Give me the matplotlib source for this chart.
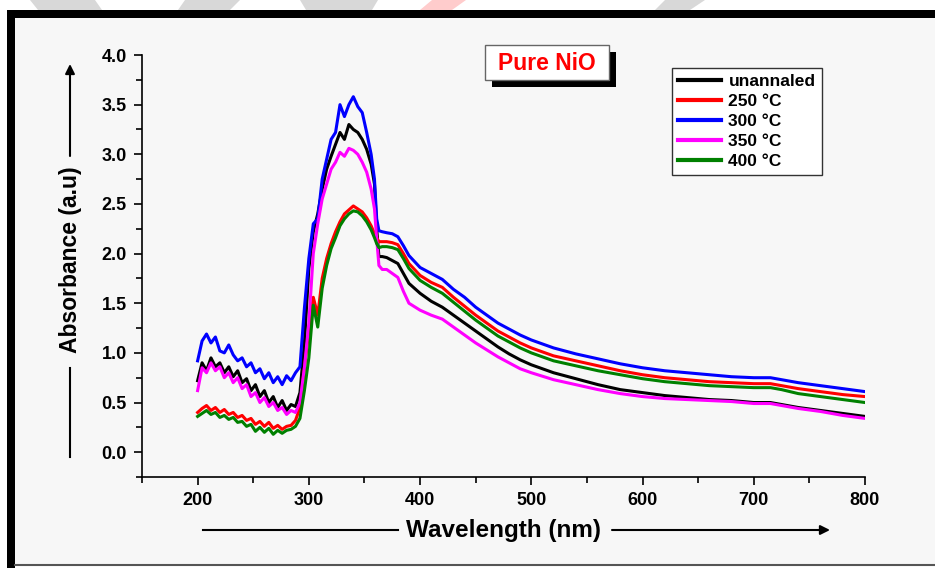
import matplotlib.pyplot as plt
from matplotlib.patches import Rectangle, Polygon
from matplotlib.lines import Line2D
from matplotlib.ticker import MultipleLocator

W, H = 935, 568

# wavelength grid (nm)
wavelength = list(range(200, 360, 4)) + [359, 361, 363, 366, 370, 375, 380, 385, 390,
                                         400, 410, 420, 430, 440, 450, 460, 470, 480, 490, 500,
                                         520, 540, 560, 580, 600, 620, 640, 660, 680, 700,
                                         715, 725, 740, 760, 780, 800]

unannealed = [0.72, 0.90, 0.82, 0.95, 0.86, 0.90, 0.80, 0.86, 0.76, 0.82,
              0.70, 0.74, 0.62, 0.68, 0.56, 0.62, 0.50, 0.56, 0.45, 0.52,
              0.42, 0.48, 0.46, 0.60, 1.10, 1.85, 2.22, 2.40, 2.65, 2.85,
              2.98, 3.10, 3.22, 3.15, 3.30, 3.25, 3.22, 3.15, 3.05, 2.90,
              2.70, 2.25, 1.97, 1.97, 1.96, 1.93, 1.90, 1.80, 1.70,
              1.60, 1.52, 1.46, 1.38, 1.30, 1.22, 1.14, 1.06, 0.99, 0.93, 0.88,
              0.80, 0.74, 0.68, 0.63, 0.60, 0.57, 0.55, 0.53, 0.52, 0.50,
              0.50, 0.48, 0.45, 0.42, 0.39, 0.36]

t250 = [0.40, 0.44, 0.47, 0.42, 0.45, 0.40, 0.43, 0.38, 0.40, 0.35,
        0.37, 0.32, 0.34, 0.28, 0.31, 0.26, 0.30, 0.24, 0.27, 0.23,
        0.26, 0.27, 0.32, 0.45, 0.85, 1.22, 1.56, 1.38, 1.75, 1.95,
        2.10, 2.22, 2.32, 2.40, 2.44, 2.48, 2.45, 2.42, 2.36, 2.28,
        2.20, 2.16, 2.12, 2.12, 2.12, 2.11, 2.09, 2.00, 1.90,
        1.78, 1.71, 1.66, 1.56, 1.47, 1.38, 1.30, 1.22, 1.16, 1.10, 1.05,
        0.97, 0.92, 0.87, 0.82, 0.78, 0.75, 0.73, 0.71, 0.70, 0.69,
        0.69, 0.67, 0.64, 0.61, 0.58, 0.56]

t300 = [0.92, 1.12, 1.19, 1.10, 1.16, 1.02, 1.00, 1.08, 0.98, 0.92,
        0.95, 0.86, 0.90, 0.80, 0.84, 0.74, 0.80, 0.70, 0.76, 0.68,
        0.77, 0.72, 0.80, 0.86, 1.45, 1.95, 2.30, 2.35, 2.75, 2.95,
        3.15, 3.22, 3.50, 3.38, 3.50, 3.58, 3.48, 3.42, 3.22, 3.00,
        2.75, 2.35, 2.23, 2.22, 2.21, 2.20, 2.17, 2.08, 1.98,
        1.86, 1.80, 1.74, 1.64, 1.56, 1.46, 1.38, 1.30, 1.24, 1.18, 1.13,
        1.05, 0.99, 0.94, 0.89, 0.85, 0.82, 0.80, 0.78, 0.76, 0.75,
        0.75, 0.73, 0.70, 0.67, 0.64, 0.61]

t350 = [0.62, 0.85, 0.80, 0.90, 0.82, 0.86, 0.75, 0.80, 0.70, 0.75,
        0.64, 0.68, 0.56, 0.60, 0.50, 0.55, 0.46, 0.50, 0.42, 0.45,
        0.38, 0.42, 0.40, 0.50, 0.85, 1.30, 2.00, 2.30, 2.55, 2.70,
        2.85, 2.92, 3.02, 2.98, 3.06, 3.04, 3.00, 2.92, 2.82, 2.65,
        2.45, 2.15, 1.88, 1.84, 1.84, 1.80, 1.76, 1.62, 1.50,
        1.43, 1.38, 1.34, 1.26, 1.18, 1.10, 1.03, 0.96, 0.90, 0.84, 0.80,
        0.73, 0.68, 0.63, 0.59, 0.56, 0.54, 0.53, 0.52, 0.51, 0.49,
        0.49, 0.47, 0.44, 0.41, 0.37, 0.34]

t400 = [0.36, 0.39, 0.42, 0.38, 0.40, 0.35, 0.37, 0.33, 0.35, 0.30,
        0.31, 0.26, 0.28, 0.21, 0.25, 0.20, 0.24, 0.18, 0.22, 0.19,
        0.22, 0.23, 0.26, 0.34, 0.62, 0.95, 1.48, 1.26, 1.65, 1.88,
        2.05, 2.16, 2.28, 2.35, 2.40, 2.43, 2.42, 2.38, 2.32, 2.24,
        2.16, 2.10, 2.06, 2.07, 2.07, 2.06, 2.04, 1.95, 1.85,
        1.73, 1.66, 1.60, 1.51, 1.42, 1.33, 1.25, 1.17, 1.11, 1.05, 1.00,
        0.92, 0.87, 0.82, 0.78, 0.74, 0.71, 0.69, 0.67, 0.66, 0.65,
        0.65, 0.63, 0.59, 0.56, 0.53, 0.50]

series = [unannealed, t250, t300, t350, t400]
labels = ["unannaled", "250 °C", "300 °C", "350 °C", "400 °C"]
colors = ["#000000", "#ff0000", "#0000ff", "#ff00ff", "#008000"]

plt.rcParams['font.family'] = ['Liberation Sans', 'DejaVu Sans']
plt.rcParams['font.weight'] = 'bold'


def fx(px):
    return px / W


def fy(py):
    return 1 - py / H


fig = plt.figure(figsize=(W / 100, H / 100), dpi=100, facecolor='white')

# picture frame: light background, thick black border, gray bottom line
fig.add_artist(Rectangle((fx(15), fy(565)), fx(935) - fx(15), fy(18) - fy(565),
                         transform=fig.transFigure, facecolor='#f7f7f7', edgecolor='none', zorder=-5))
fig.add_artist(Rectangle((fx(7), fy(18)), fx(935) - fx(7), fy(10) - fy(18),
                         transform=fig.transFigure, facecolor='black', edgecolor='none', zorder=-4))
fig.add_artist(Rectangle((fx(7), fy(568)), fx(15) - fx(7), fy(10) - fy(568),
                         transform=fig.transFigure, facecolor='black', edgecolor='none', zorder=-4))
fig.add_artist(Line2D([fx(15), fx(935)], [fy(565), fy(565)], transform=fig.transFigure,
                      color='#555555', lw=1.5))

# faint watermark pieces above the frame
for pts, c in [([(30, 0), (95, 0), (102, 10), (38, 10)], '#d8d8d8'),
               ([(185, 0), (240, 0), (230, 10), (178, 10)], '#d8d8d8'),
               ([(300, 0), (378, 0), (372, 10), (306, 10)], '#d8d8d8'),
               ([(432, 0), (466, 0), (452, 10), (420, 10)], '#ffcccc'),
               ([(665, 0), (705, 0), (690, 10), (655, 10)], '#d8d8d8')]:
    fig.add_artist(Polygon([(fx(a), fy(b)) for a, b in pts], closed=True,
                           transform=fig.transFigure, facecolor=c, edgecolor='none'))

ax = fig.add_axes([fx(142), fy(477), fx(865) - fx(142), fy(55) - fy(477)])
ax.patch.set_alpha(0)

for ys, lab, col in zip(series, labels, colors):
    ax.plot(wavelength, ys, color=col, lw=2.2, label=lab)

ax.set_xlim(150, 800)
ax.set_ylim(-0.25, 4.0)
ax.xaxis.set_major_locator(MultipleLocator(100))
ax.xaxis.set_minor_locator(MultipleLocator(50))
ax.yaxis.set_major_locator(MultipleLocator(0.5))
ax.yaxis.set_minor_locator(MultipleLocator(0.25))
ax.set_xticks(range(200, 801, 100))
ax.yaxis.set_major_formatter(lambda v, p: f"{v:.1f}")
for s in ['top', 'right']:
    ax.spines[s].set_visible(False)
for s in ['left', 'bottom']:
    ax.spines[s].set_linewidth(1.2)
ax.tick_params(which='major', direction='out', length=6, width=1.2, labelsize=13, pad=5)
ax.tick_params(which='minor', direction='out', length=4, width=1.2)

leg = ax.legend(loc='upper left', bbox_to_anchor=(fx(672), fy(68)), bbox_transform=fig.transFigure,
                fancybox=False, edgecolor='#333333', framealpha=1, facecolor='white',
                prop={'size': 12.5, 'weight': 'bold'}, handlelength=2.5, handletextpad=0.4,
                labelspacing=0.27, borderpad=0.35, borderaxespad=0)
leg.get_frame().set_linewidth(1.0)
for ln in leg.get_lines():
    ln.set_linewidth(3)

# title box with shadow
fig.add_artist(Rectangle((fx(492), fy(87)), fx(616) - fx(492), fy(52) - fy(87),
                         transform=fig.transFigure, facecolor='black', edgecolor='none'))
fig.add_artist(Rectangle((fx(485), fy(80)), fx(609) - fx(485), fy(45) - fy(80),
                         transform=fig.transFigure, facecolor='white', edgecolor='#666666', lw=1))
fig.text(fx(547), fy(63), "Pure NiO", color='#ff0000', fontsize=16.5, fontweight='bold',
         ha='center', va='center')

# axis titles with arrow lines
fig.text(fx(503), fy(530), "Wavelength (nm)", fontsize=17.5, fontweight='bold', ha='center', va='center')
fig.add_artist(Line2D([fx(203), fx(398)], [fy(530), fy(530)], transform=fig.transFigure, color='black', lw=1.5))
ax.annotate('', xy=(fx(830), fy(530)), xytext=(fx(612), fy(530)), xycoords='figure fraction',
            textcoords='figure fraction',
            arrowprops=dict(arrowstyle='-|>', color='black', lw=1.5, mutation_scale=14, shrinkA=0, shrinkB=0))

fig.text(fx(71), fy(260), "Absorbance (a.u)", fontsize=16.5, fontweight='bold', rotation=90,
         ha='center', va='center')
fig.add_artist(Line2D([fx(70), fx(70)], [fy(457), fy(368)], transform=fig.transFigure, color='black', lw=1.5))
ax.annotate('', xy=(fx(70), fy(64)), xytext=(fx(70), fy(156)), xycoords='figure fraction',
            textcoords='figure fraction',
            arrowprops=dict(arrowstyle='-|>', color='black', lw=1.5, mutation_scale=14, shrinkA=0, shrinkB=0))

fig.savefig('out.png', dpi=100, facecolor=fig.get_facecolor())
